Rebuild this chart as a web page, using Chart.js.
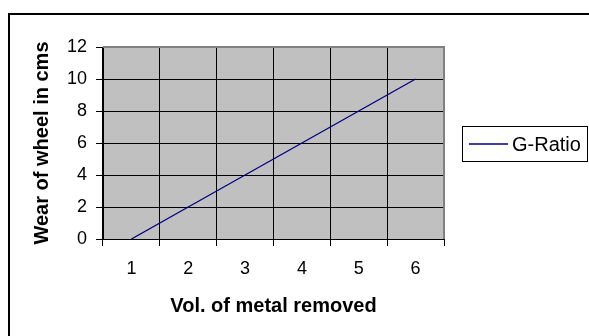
<!DOCTYPE html>
<html>
<head>
<meta charset="utf-8">
<script src="https://cdn.jsdelivr.net/npm/chart.js@4.4.1/dist/chart.umd.min.js"></script>
<style>
  html, body { margin: 0; padding: 0; background: #ffffff; }
  #wrap { position: relative; width: 589px; height: 336px; overflow: hidden; }
  canvas { display: block; }
</style>
</head>
<body>
<div id="wrap"><canvas id="chart" width="589" height="336"></canvas></div>
<script>
// Volume of metal removed (categories) and wheel wear
const volumes = ['1', '2', '3', '4', '5', '6'];
const wheelWear = [0, 2, 4, 6, 8, 10];
const seriesName = 'G-Ratio';
const xTitle = 'Vol. of metal removed';
const yTitle = 'Wear of wheel in cms';

const FONT = '"Liberation Sans", Arial, sans-serif';

// Gray plot background, plot border and the outer chart frame
const framePlugin = {
  id: 'frame',
  beforeDraw(chart) {
    const { ctx, chartArea: a } = chart;
    ctx.save();
    ctx.fillStyle = '#c0c0c0';
    ctx.fillRect(a.left, a.top, a.right - a.left, a.bottom - a.top);
    ctx.restore();
  },
  afterDatasetsDraw(chart) {
    const { ctx, chartArea: a } = chart;
    ctx.save();
    // plot area border (top/right gray)
    ctx.strokeStyle = '#808080';
    ctx.lineWidth = 2;
    ctx.beginPath();
    ctx.moveTo(a.left, a.top);
    ctx.lineTo(a.right, a.top);
    ctx.lineTo(a.right, a.bottom);
    ctx.stroke();
    ctx.restore();
  },
  afterDraw(chart) {
    const { ctx } = chart;
    ctx.save();
    ctx.strokeStyle = '#000000';
    ctx.lineWidth = 2;
    ctx.strokeRect(9, 14, 800, 600);
    ctx.restore();
  }
};

// Boxed legend to the right of the plot
const boxLegend = {
  id: 'boxLegend',
  afterDraw(chart) {
    const { ctx } = chart;
    const ds = chart.data.datasets[0];
    const x0 = 462.5, y0 = 126.5, w = 125, h = 35;
    ctx.save();
    ctx.fillStyle = '#ffffff';
    ctx.fillRect(x0, y0, w, h);
    ctx.strokeStyle = '#000000';
    ctx.lineWidth = 1;
    ctx.strokeRect(x0, y0, w, h);
    const cy = y0 + h / 2;
    ctx.strokeStyle = ds.borderColor;
    ctx.lineWidth = ds.borderWidth;
    ctx.beginPath();
    ctx.moveTo(469, cy);
    ctx.lineTo(508, cy);
    ctx.stroke();
    ctx.fillStyle = '#000000';
    ctx.font = '20px ' + FONT;
    ctx.textBaseline = 'middle';
    ctx.textAlign = 'left';
    ctx.fillText(ds.label, 512, cy + 1);
    ctx.restore();
  }
};

new Chart(document.getElementById('chart'), {
  type: 'line',
  data: {
    labels: volumes,
    datasets: [{
      label: seriesName,
      data: wheelWear,
      borderColor: '#000080',
      borderWidth: 1.3,
      pointRadius: 0,
      tension: 0,
      fill: false
    }]
  },
  options: {
    responsive: false,
    devicePixelRatio: 1,
    animation: false,
    layout: { padding: { top: 47, right: 145, left: 0, bottom: 0 } },
    plugins: {
      legend: { display: false },
      tooltip: { enabled: false }
    },
    scales: {
      x: {
        offset: true,
        grid: {
          offset: true,
          color: '#000000',
          lineWidth: 1,
          tickLength: 7,
          drawOnChartArea: true
        },
        border: { color: '#000000', width: 1 },
        ticks: {
          color: '#000000',
          font: { family: FONT, size: 18 },
          padding: 12,
          maxRotation: 0
        },
        title: {
          display: true,
          text: xTitle,
          color: '#000000',
          font: { family: FONT, size: 20, weight: 'bold' },
          padding: { top: 0, bottom: 18 }
        },
        afterFit(scale) { scale.height = 97; }
      },
      y: {
        min: 0,
        max: 12,
        ticks: {
          stepSize: 2,
          color: '#000000',
          font: { family: FONT, size: 18 },
          padding: 9
        },
        grid: {
          color: '#000000',
          lineWidth: 1,
          tickLength: 7
        },
        border: { color: '#000000', width: 1 },
        title: {
          display: true,
          text: yTitle,
          color: '#000000',
          font: { family: FONT, size: 20, weight: 'bold' },
          padding: { top: 30, bottom: 0 }
        },
        afterFit(scale) { scale.width = 103; }
      }
    }
  },
  plugins: [framePlugin, boxLegend]
});
</script>
</body>
</html>
